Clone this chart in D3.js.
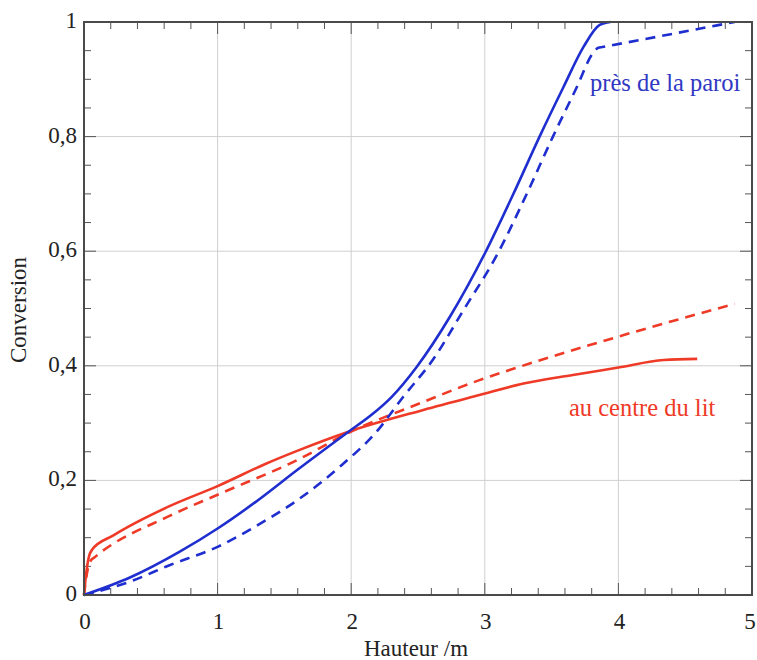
<!DOCTYPE html>
<html>
<head>
<meta charset="utf-8">
<script src="https://cdn.jsdelivr.net/npm/d3@7"></script>
<style>
  html, body { margin: 0; padding: 0; background: #fff; }
  svg { display: block; }
  text { font-family: "Liberation Serif", "DejaVu Serif", serif; }
</style>
</head>
<body>
<svg id="chart" width="757" height="660"></svg>
<script>
// Conversion profiles along the bed height: [hauteur (m), conversion]
const wallSolid = [
  [0, 0], [0.34, 0.03], [0.72, 0.076], [1.0, 0.116], [1.3, 0.165], [1.6, 0.219],
  [1.98, 0.285], [2.15, 0.314], [2.3, 0.345], [2.49, 0.398], [2.74, 0.486], [3.0, 0.596],
  [3.21, 0.698], [3.41, 0.8], [3.59, 0.887], [3.74, 0.957], [3.86, 0.995], [3.94, 1.0]
];
const wallDashed = [
  [0, 0], [0.34, 0.023], [0.64, 0.052], [1.0, 0.084], [1.3, 0.122], [1.6, 0.166],
  [1.93, 0.227], [2.19, 0.285], [2.39, 0.346], [2.61, 0.41], [2.84, 0.497],
  [3.09, 0.593], [3.31, 0.698], [3.51, 0.8], [3.69, 0.887], [3.81, 0.946],
  [3.85, 0.955], [3.88, 0.9563], [4.87, 1.0]
];
const centreSolid = [
  [0, 0], [0.015, 0.035], [0.035, 0.065], [0.06, 0.079], [0.22, 0.104], [0.64, 0.155],
  [1.0, 0.19], [1.37, 0.23], [1.6, 0.252], [1.98, 0.285], [2.54, 0.323],
  [2.96, 0.349], [3.29, 0.369], [3.66, 0.384], [4.0, 0.397], [4.34, 0.41], [4.59, 0.412]
];
const centreDashed = [
  [0, 0], [0.02, 0.035], [0.05, 0.06], [0.08, 0.066], [0.64, 0.138], [1.0, 0.175],
  [1.6, 0.236], [1.98, 0.283], [2.54, 0.337], [2.96, 0.375], [3.19, 0.393],
  [4.0, 0.451], [4.87, 0.508]
];

const xTicks = [0, 1, 2, 3, 4, 5];
const yTicks = [0, 0.2, 0.4, 0.6, 0.8, 1];
const yTickLabels = ["0", "0,2", "0,4", "0,6", "0,8", "1"];
const xMinor = d3.range(0, 5.0001, 0.2);
const yMinor = d3.range(0, 1.0001, 0.05);

const blue = "#1f2ecf";
const red = "#ee3a26";

const plotLeft = 84, plotRight = 752, plotTop = 22, plotBottom = 595;
const svg = d3.select("#chart");

const x = d3.scaleLinear().domain([0, 5]).range([plotLeft, plotRight]);
const y = d3.scaleLinear().domain([0, 1]).range([plotBottom, plotTop]);

// grid
const grid = svg.append("g").attr("stroke", "#cfcfcf").attr("stroke-width", 1);
grid.selectAll("line.gx").data(xTicks.slice(1, -1)).join("line")
  .attr("x1", d => x(d)).attr("x2", d => x(d)).attr("y1", plotTop).attr("y2", plotBottom);
grid.selectAll("line.gy").data(yTicks.slice(1, -1)).join("line")
  .attr("y1", d => y(d)).attr("y2", d => y(d)).attr("x1", plotLeft).attr("x2", plotRight);

// inward ticks on all four sides
const ticks = svg.append("g").attr("stroke", "#555").attr("stroke-width", 1);
const isMajor = (v, step) => Math.abs(v / step - Math.round(v / step)) < 1e-6;
xMinor.forEach(v => {
  const len = isMajor(v, 1) ? 12 : 7;
  ticks.append("line").attr("x1", x(v)).attr("x2", x(v)).attr("y1", plotBottom).attr("y2", plotBottom - len);
  ticks.append("line").attr("x1", x(v)).attr("x2", x(v)).attr("y1", plotTop).attr("y2", plotTop + len);
});
yMinor.forEach(v => {
  const len = isMajor(v, 0.2) ? 12 : 7;
  ticks.append("line").attr("y1", y(v)).attr("y2", y(v)).attr("x1", plotLeft).attr("x2", plotLeft + len);
  ticks.append("line").attr("y1", y(v)).attr("y2", y(v)).attr("x1", plotRight).attr("x2", plotRight - len);
});

// curves
const line = d3.line().x(d => x(d[0])).y(d => y(d[1])).curve(d3.curveMonotoneX);
const curves = svg.append("g").attr("fill", "none").attr("stroke-width", 2.6)
  .attr("stroke-linecap", "butt").attr("stroke-linejoin", "round");
curves.append("path").datum(centreDashed).attr("d", line).attr("stroke", red).attr("stroke-dasharray", "10,7");
curves.append("path").datum(centreSolid).attr("d", line).attr("stroke", red);
curves.append("path").datum(wallDashed).attr("d", line).attr("stroke", blue).attr("stroke-dasharray", "10,7");
curves.append("path").datum(wallSolid).attr("d", line).attr("stroke", blue);

// frame
svg.append("rect").attr("x", plotLeft).attr("y", plotTop)
  .attr("width", plotRight - plotLeft).attr("height", plotBottom - plotTop)
  .attr("fill", "none").attr("stroke", "#4a4a4a").attr("stroke-width", 2);

// tick labels
const tl = svg.append("g").attr("fill", "#222").attr("font-size", 23);
tl.selectAll("text.xl").data(xTicks).join("text")
  .attr("x", d => d === 5 ? x(d) - 2 : x(d) + 1).attr("y", 629).attr("text-anchor", "middle").text(d => d);
tl.selectAll("text.yl").data(yTicks).join("text")
  .attr("x", 77).attr("y", d => y(d) + 6).attr("text-anchor", "end")
  .text((d, i) => yTickLabels[i]);

// axis titles
svg.append("text").attr("x", 416).attr("y", 656).attr("text-anchor", "middle")
  .attr("font-size", 23).attr("fill", "#222").text("Hauteur /m");
svg.append("text").attr("transform", "translate(26,310) rotate(-90)").attr("text-anchor", "middle")
  .attr("font-size", 23).attr("fill", "#222").text("Conversion");

// series annotations
svg.append("text").attr("x", 590).attr("y", 91).attr("font-size", 24.5).attr("fill", "#3038c4")
  .text("près de la paroi");
svg.append("text").attr("x", 569).attr("y", 416).attr("font-size", 24.5).attr("fill", red)
  .text("au centre du lit");
</script>
</body>
</html>
